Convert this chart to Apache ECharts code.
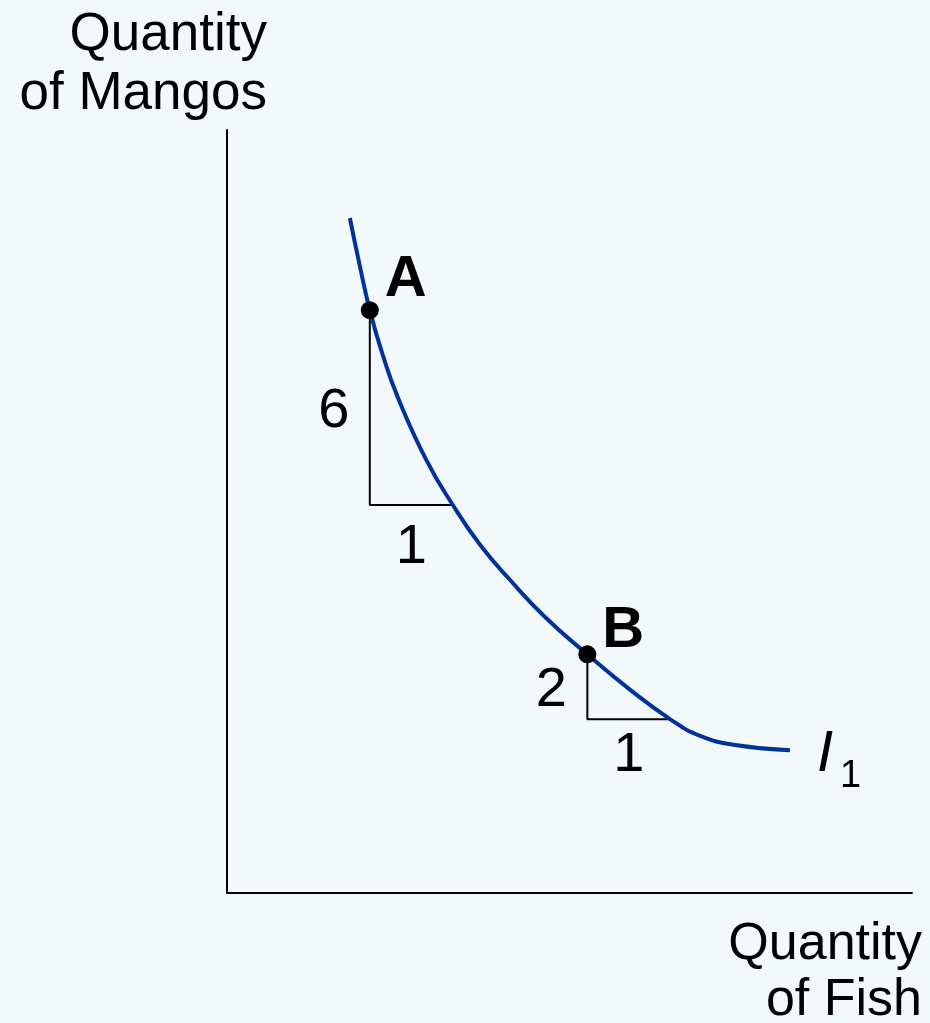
<!DOCTYPE html>
<html>
<head>
<meta charset="utf-8">
<script src="https://cdn.jsdelivr.net/npm/echarts@6/dist/echarts.min.js"></script>
<style>
  html, body { margin: 0; padding: 0; background: #f3f8fb; }
  #chart { width: 930px; height: 1023px; }
</style>
</head>
<body>
<div id="chart"></div>
<script>
// Indifference curve I1: quantity of fish (x) against quantity of mangos (y)
const fishQty  = [1.48, 1.59, 1.72, 1.88, 2.06, 2.40, 2.72, 3.05, 3.41, 3.83, 4.34, 4.83, 5.34, 5.70, 6.12, 6.78];
const mangoQty = [20.79, 19.43, 17.95, 16.54, 15.25, 13.34, 11.95, 10.72, 9.64, 8.50, 7.35, 6.31, 5.35, 4.84, 4.56, 4.40];

// Marked bundles on the curve and the trade-off triangle below each one
const pointNames    = ['A', 'B'];
const pointFish     = [1.72, 4.34];
const pointMango    = [17.95, 7.35];
const fishGained    = [1, 1];
const mangosGivenUp = [6, 2];

const curveName = 'I';
const curveSub  = '1';
const yTitleLines = ['Quantity', 'of Mangos'];
const xTitleLines = ['Quantity', 'of Fish'];

const FONT = '"Liberation Sans", Arial, Helvetica, sans-serif';
const INK = '#000000';
const CURVE = '#003399';

const chart = echarts.init(document.getElementById('chart'), null, { renderer: 'canvas' });

const curveData = fishQty.map((x, i) => [x, mangoQty[i]]);

// Triangle legs: down by the mangos given up, then across by the fish gained
const triangleSeries = pointNames.map((name, i) => ({
  type: 'line',
  name: 'legs ' + name,
  data: [
    [pointFish[i], pointMango[i]],
    [pointFish[i], pointMango[i] - mangosGivenUp[i]],
    [pointFish[i] + fishGained[i], pointMango[i] - mangosGivenUp[i]]
  ],
  showSymbol: false,
  silent: true,
  lineStyle: { color: INK, width: 2, opacity: 1 },
  z: 2
}));

const digitLabel = {
  show: true,
  color: INK,
  opacity: 1,
  fontFamily: FONT,
  fontSize: 56,
  formatter: p => String(p.value[2])
};

const hiddenMark = { color: 'rgba(0,0,0,0)', opacity: 1 };

const verticalLegLabels = {
  type: 'scatter',
  symbolSize: 1,
  itemStyle: hiddenMark,
  silent: true,
  data: pointNames.map((n, i) => [pointFish[i], pointMango[i] - mangosGivenUp[i] / 2, mangosGivenUp[i]]),
  label: Object.assign({}, digitLabel, { position: 'left', distance: 20, offset: [0, 4] }),
  z: 3
};

const legLabelOffsets = [[0, 6], [0, 0]];
const horizontalLegLabels = {
  type: 'scatter',
  symbolSize: 1,
  itemStyle: hiddenMark,
  silent: true,
  data: pointNames.map((n, i) => ({
    value: [pointFish[i] + fishGained[i] / 2, pointMango[i] - mangosGivenUp[i], fishGained[i]],
    label: { offset: legLabelOffsets[i] }
  })),
  label: Object.assign({}, digitLabel, { position: 'bottom', distance: 8 }),
  z: 3
};

const pointOffsets = [[0, -30], [0, -23]];

const option = {
  backgroundColor: '#f3f8fb',
  animation: false,
  grid: { left: 227, top: 130, width: 685, height: 763, containLabel: false },
  xAxis: {
    type: 'value', min: 0, max: 8.25,
    axisLine: { show: true, onZero: false, lineStyle: { color: INK, width: 2 } },
    axisTick: { show: false }, axisLabel: { show: false }, splitLine: { show: false }
  },
  yAxis: {
    type: 'value', min: 0, max: 23.5,
    axisLine: { show: true, onZero: false, lineStyle: { color: INK, width: 2 } },
    axisTick: { show: false }, axisLabel: { show: false }, splitLine: { show: false }
  },
  series: [
    ...triangleSeries,
    {
      type: 'line',
      name: 'I1',
      data: curveData,
      smooth: 0.5,
      showSymbol: false,
      silent: true,
      lineStyle: { color: CURVE, width: 4 },
      z: 4
    },
    verticalLegLabels,
    horizontalLegLabels,
    {
      type: 'scatter',
      name: 'bundles',
      symbolSize: 18,
      itemStyle: { color: INK, opacity: 1 },
      silent: true,
      data: pointNames.map((n, i) => ({
        name: n,
        value: [pointFish[i], pointMango[i]],
        label: { offset: pointOffsets[i] }
      })),
      label: {
        show: true,
        position: 'right',
        distance: 6,
        formatter: p => p.name,
        color: INK,
        opacity: 1,
        fontFamily: FONT,
        fontWeight: 'bold',
        fontSize: 58
      },
      z: 5
    }
  ]
};

chart.setOption(option);

// Axis titles and the curve label beside the curve's last point
const end = chart.convertToPixel({ gridIndex: 0 }, curveData[curveData.length - 1]);

chart.setOption({
  graphic: [
    {
      type: 'text', x: 267, y: 6, silent: true,
      style: { text: yTitleLines.join('\n'), align: 'right', verticalAlign: 'top',
               fontFamily: FONT, fontSize: 53, lineHeight: 59, fill: INK }
    },
    {
      type: 'text', x: 922, y: 917, silent: true,
      style: { text: xTitleLines.join('\n'), align: 'right', verticalAlign: 'top',
               fontFamily: FONT, fontSize: 52, lineHeight: 56, fill: INK }
    },
    {
      type: 'text', x: end[0] + 27, y: end[1] + 5, silent: true,
      style: { text: curveName, align: 'left', verticalAlign: 'middle',
               fontFamily: FONT, fontStyle: 'italic', fontSize: 58, fill: INK }
    },
    {
      type: 'text', x: end[0] + 50, y: end[1] + 26, silent: true,
      style: { text: curveSub, align: 'left', verticalAlign: 'middle',
               fontFamily: FONT, fontSize: 38, fill: INK }
    }
  ]
});
</script>
</body>
</html>
